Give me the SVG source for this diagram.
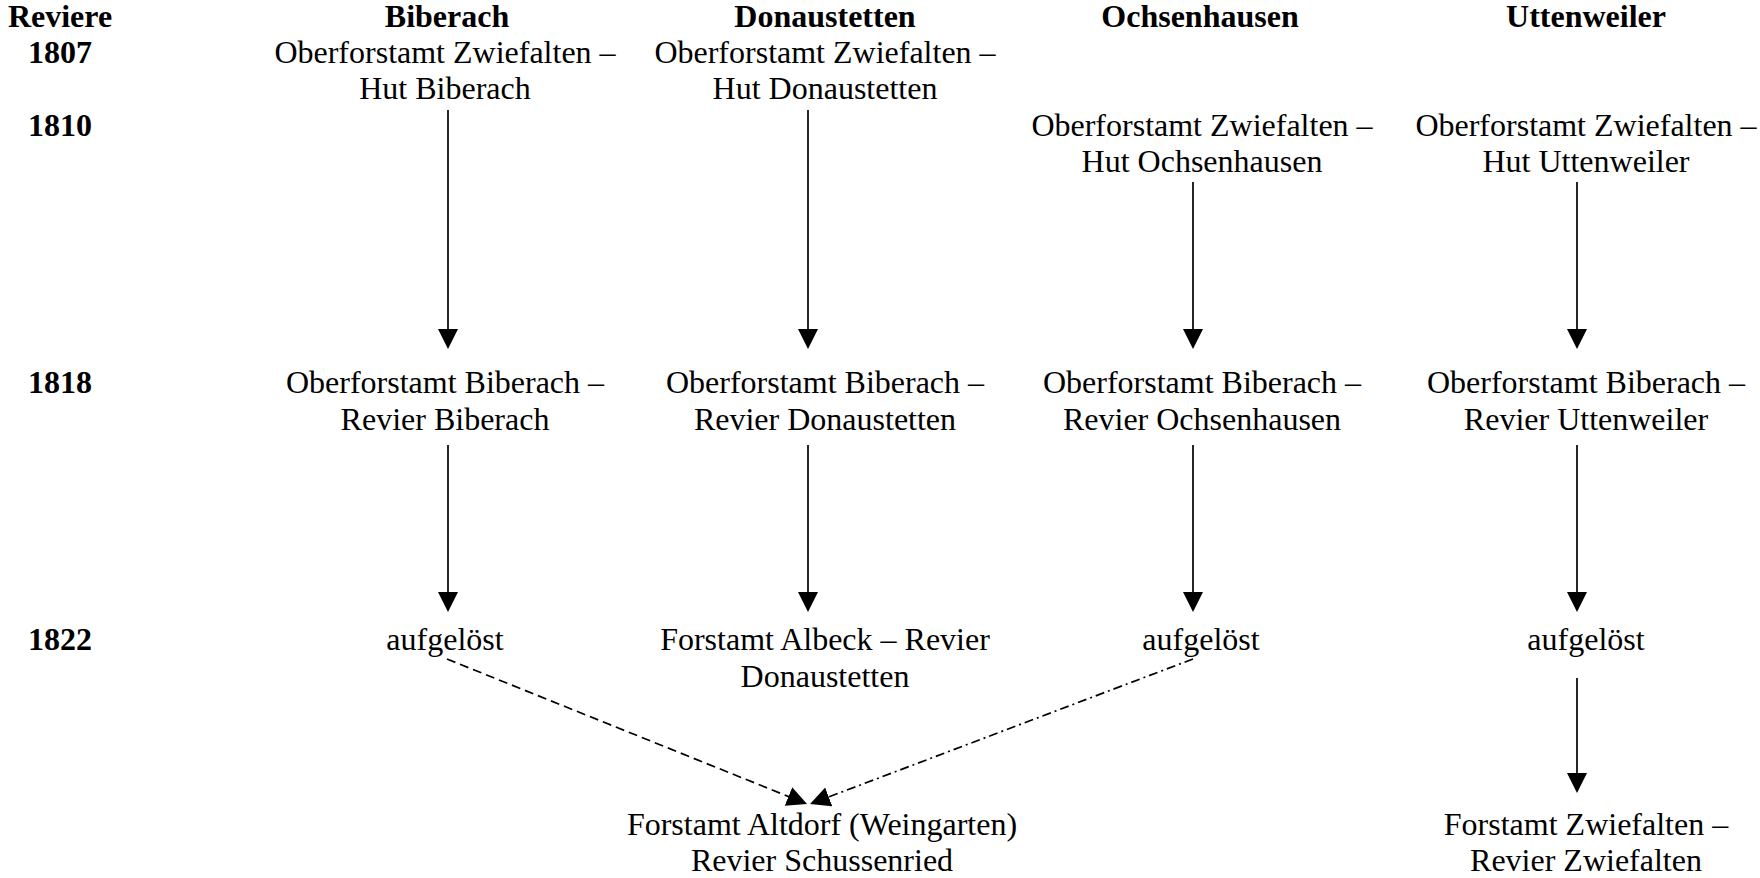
<svg xmlns="http://www.w3.org/2000/svg" width="1760" height="878" viewBox="0 0 1760 878">
<style>
text{font-family:"Liberation Serif","Times New Roman",serif;font-size:32px;fill:#000;text-anchor:middle}
.b{font-weight:bold}
.e{stroke:#000;stroke-width:1.7;fill:none}
.dash{stroke-dasharray:9,5}
.dd{stroke-dasharray:9,4,2,4}
</style>
<defs>
<marker id="ah" markerUnits="userSpaceOnUse" markerWidth="21" markerHeight="21" refX="1" refY="10" orient="auto" viewBox="0 0 21 21">
<path d="M0,0 L20,10 L0,20 z" fill="#000"/>
</marker>
</defs>
<rect width="1760" height="878" fill="#fff"/>
<g id="header">
<text class="b" x="60" y="27">Reviere</text>
<text class="b" x="447" y="27">Biberach</text>
<text class="b" x="825" y="27">Donaustetten</text>
<text class="b" x="1200" y="27">Ochsenhausen</text>
<text class="b" x="1586" y="27">Uttenweiler</text>
</g>
<g id="years">
<text class="b" x="60" y="63">1807</text>
<text class="b" x="60" y="136">1810</text>
<text class="b" x="60" y="393">1818</text>
<text class="b" x="60" y="650">1822</text>
</g>
<g id="n_bib1807"><text x="445" y="63">Oberforstamt Zwiefalten –</text><text x="445" y="99">Hut Biberach</text></g>
<g id="n_don1807"><text x="825" y="63">Oberforstamt Zwiefalten –</text><text x="825" y="99">Hut Donaustetten</text></g>
<g id="n_och1810"><text x="1202" y="136">Oberforstamt Zwiefalten –</text><text x="1202" y="172">Hut Ochsenhausen</text></g>
<g id="n_utt1810"><text x="1586" y="136">Oberforstamt Zwiefalten –</text><text x="1586" y="172">Hut Uttenweiler</text></g>
<g id="n_bib1818"><text x="445" y="393">Oberforstamt Biberach –</text><text x="445" y="430">Revier Biberach</text></g>
<g id="n_don1818"><text x="825" y="393">Oberforstamt Biberach –</text><text x="825" y="430">Revier Donaustetten</text></g>
<g id="n_och1818"><text x="1202" y="393">Oberforstamt Biberach –</text><text x="1202" y="430">Revier Ochsenhausen</text></g>
<g id="n_utt1818"><text x="1586" y="393">Oberforstamt Biberach –</text><text x="1586" y="430">Revier Uttenweiler</text></g>
<g id="n_bib1822"><text x="445" y="650">aufgelöst</text></g>
<g id="n_don1822"><text x="825" y="650">Forstamt Albeck – Revier</text><text x="825" y="687">Donaustetten</text></g>
<g id="n_och1822"><text x="1201" y="650">aufgelöst</text></g>
<g id="n_utt1822"><text x="1586" y="650">aufgelöst</text></g>
<g id="n_altdorf"><text x="822" y="835">Forstamt Altdorf (Weingarten)</text><text x="822" y="871">Revier Schussenried</text></g>
<g id="n_zwiefalten"><text x="1586" y="835">Forstamt Zwiefalten –</text><text x="1586" y="871">Revier Zwiefalten</text></g>
<g id="connectors">
<line class="e" x1="448" y1="110" x2="448" y2="330" marker-end="url(#ah)"/>
<line class="e" x1="808" y1="110" x2="808" y2="330" marker-end="url(#ah)"/>
<line class="e" x1="1193" y1="182" x2="1193" y2="330" marker-end="url(#ah)"/>
<line class="e" x1="1577" y1="182" x2="1577" y2="330" marker-end="url(#ah)"/>
<line class="e" x1="448" y1="445" x2="448" y2="593" marker-end="url(#ah)"/>
<line class="e" x1="808" y1="445" x2="808" y2="593" marker-end="url(#ah)"/>
<line class="e" x1="1193" y1="445" x2="1193" y2="593" marker-end="url(#ah)"/>
<line class="e" x1="1577" y1="445" x2="1577" y2="593" marker-end="url(#ah)"/>
<line class="e" x1="1577" y1="678" x2="1577" y2="774" marker-end="url(#ah)"/>
<line class="e dash" x1="447" y1="659" x2="789.4" y2="796.9" marker-end="url(#ah)"/>
<line class="e dd" x1="1193" y1="659" x2="827.8" y2="797.3" marker-end="url(#ah)"/>
</g>
</svg>
